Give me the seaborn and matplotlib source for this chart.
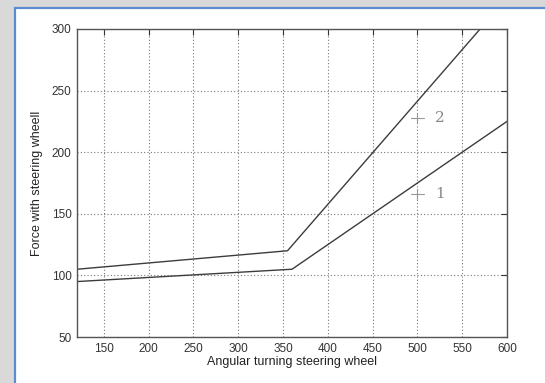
import matplotlib
matplotlib.use("Agg")
import matplotlib.pyplot as plt
import seaborn as sns
import pandas as pd
from matplotlib.patches import Rectangle

# Data
x_curve1 = [120, 360, 600]
y_curve1 = [95, 105, 225]
x_curve2 = [120, 355, 570]
y_curve2 = [105, 120, 300]
curve_names = ["1", "2"]
label_x = [500, 500]
label_y = [166, 228]
xticks = [150, 200, 250, 300, 350, 400, 450, 500, 550, 600]
yticks = [50, 100, 150, 200, 250, 300]

df = pd.concat([
    pd.DataFrame({"x": x_curve1, "y": y_curve1, "curve": curve_names[0]}),
    pd.DataFrame({"x": x_curve2, "y": y_curve2, "curve": curve_names[1]}),
])

sns.set_style("white")
plt.rcParams['font.family'] = ['Liberation Sans', 'DejaVu Sans']

fig = plt.figure(figsize=(5.45, 3.83), dpi=100)
fig.patch.set_facecolor("#d9d9d9")
# white panel with blue border
fig.patches.append(Rectangle((15/545, -0.05), 1.1, 1 - 8/383 + 0.05,
                             transform=fig.transFigure, facecolor="white",
                             edgecolor="#5b8bd0", linewidth=1.6, zorder=-5))

ax = fig.add_axes([77/545, 1 - 337/383, 430/545, 308/383])
ax.set_zorder(2)
ax.set_facecolor("white")
sns.lineplot(data=df, x="x", y="y", hue="curve", palette=["#3c3c3c", "#3c3c3c"],
             linewidth=1.0, legend=False, ax=ax, sort=False, estimator=None)

ax.set_xlim(120, 600)
ax.set_ylim(50, 300)
ax.set_xticks(xticks)
ax.set_yticks(yticks)
ax.grid(True, linestyle=(0, (1, 2)), color="#777777", linewidth=0.8)
ax.tick_params(direction="in", length=4, labelsize=8.5, colors="#333333",
               top=True, right=True, labeltop=False, labelright=False, pad=4)
for s in ax.spines.values():
    s.set_color("#555555")
    s.set_linewidth(1.0)

ax.set_xlabel("Angular turning steering wheel", fontsize=9, color="#222222", labelpad=1)
ax.set_ylabel("Force with steering wheell", fontsize=9, color="#222222", labelpad=6)

for name, lx, ly in zip(curve_names, label_x, label_y):
    ax.plot([lx - 7, lx + 7], [ly, ly], color="#999999", linewidth=0.8)
    ax.plot([lx, lx], [ly - 4, ly + 4], color="#999999", linewidth=0.8)
    ax.text(lx + 25, ly, name, fontsize=11, color="#888888", family="serif",
            ha="center", va="center")

fig.savefig("out.png", dpi=100)
